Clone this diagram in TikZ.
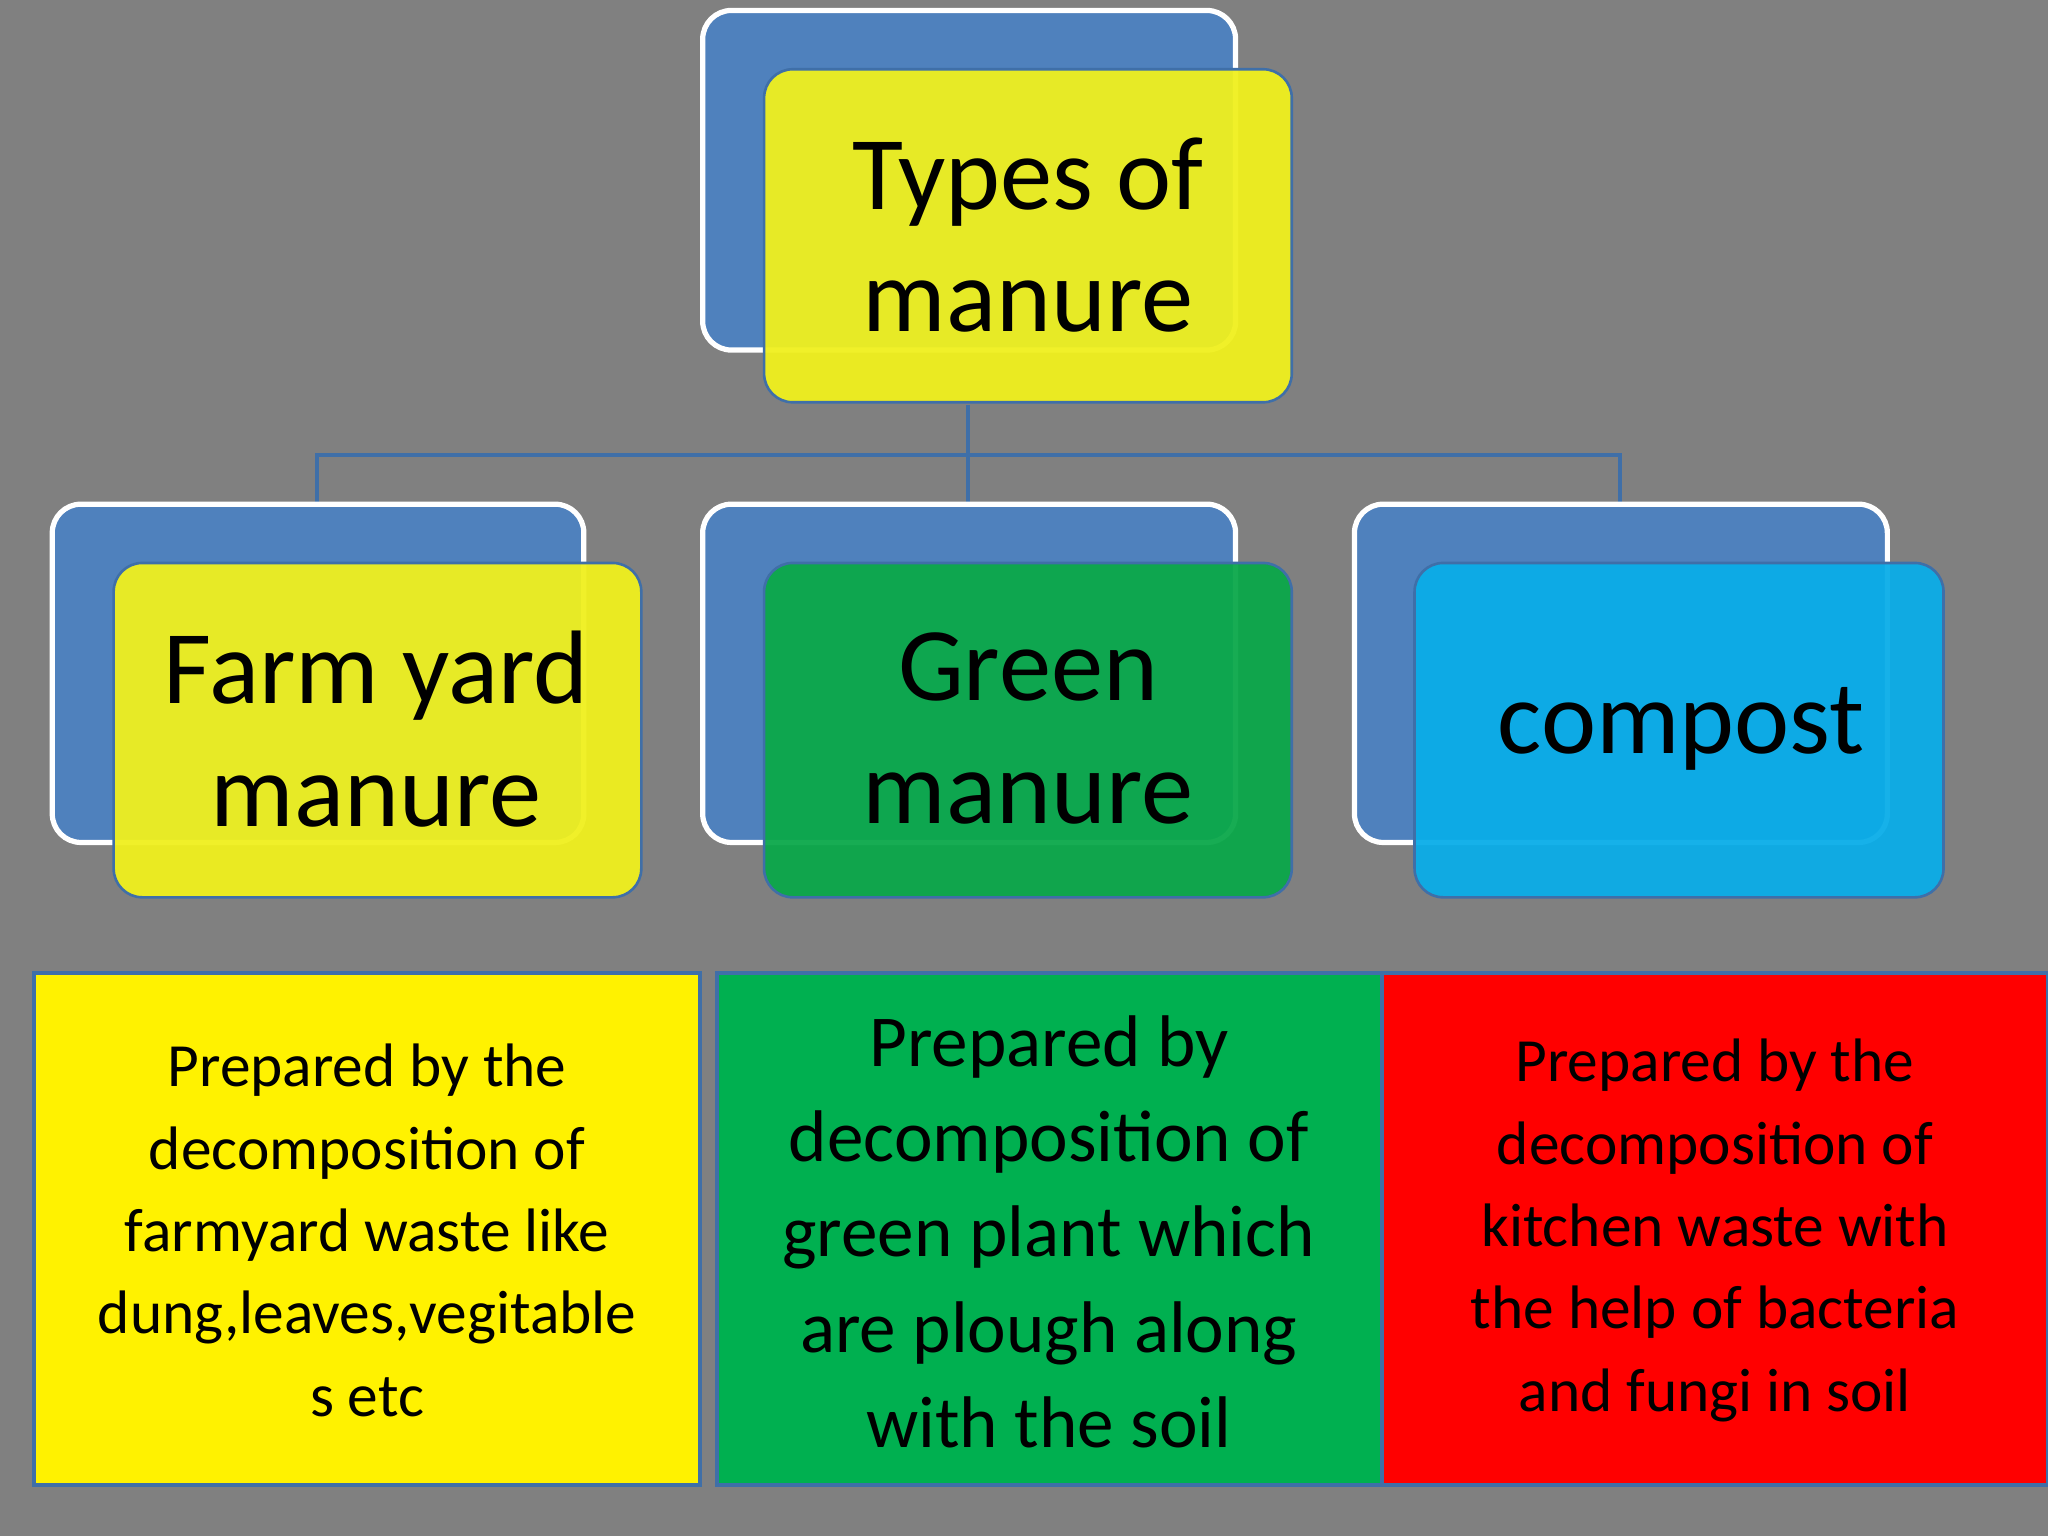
\documentclass[tikz,border=0pt]{standalone}
\usepackage{fontspec}
\setmainfont{Carlito}
\definecolor{bg}{HTML}{808080}
\definecolor{bk}{HTML}{4F81BD}
\definecolor{yl}{HTML}{F0F01E}
\definecolor{gn}{HTML}{0BA84A}
\definecolor{cy}{HTML}{0AADE8}
\definecolor{ln}{HTML}{3F6FA8}
\begin{document}
\begin{tikzpicture}[x=1pt,y=-1pt,
  back/.style={fill=bk,draw=white,line width=4pt,rounded corners=22pt},
  front/.style={draw=ln,line width=2pt,rounded corners=22pt,fill opacity=0.95},
  big/.style={align=center,font=\fontsize{80}{94}\selectfont},
  small/.style={align=center,font=\fontsize{47}{63}\selectfont},
  conn/.style={draw=ln,line width=3pt}]
\fill[bg] (0,0) rectangle (1568,1176);
\useasboundingbox (0,0) rectangle (1568,1176);
% top
\draw[back] (538,8) rectangle (946,268);
\draw[front,fill=yl] (585,53) rectangle (989,308);
\node[big] (top) at (787,180) {Types of\\manure};
% connectors
\coordinate (t) at (741,310);
\coordinate (h) at (741,348);
\coordinate (a) at (243,386);
\coordinate (b) at (741,386);
\coordinate (c) at (1240,386);
\draw[conn] (t) -- (h);
\draw[conn] (a) |- (h) -| (c);
\draw[conn] (h) -- (b);
% row
\draw[back] (40,386) rectangle (447,645);
\draw[back] (538,386) rectangle (946,645);
\draw[back] (1037,386) rectangle (1445,645);
\draw[front,fill=yl] (87,431) rectangle (491,687);
\draw[front,fill=gn] (585,431) rectangle (989,687);
\draw[front,fill=cy] (1083,431) rectangle (1488,687);
\node[big] (fym) at (288,558) {Farm yard\\manure};
\node[big] (gm) at (787,558) {Green\\manure};
\node[big] (cp) at (1287,558) {compost};
% bottom
\draw[fill=yellow,draw=ln,line width=3pt] (26,745) rectangle (536,1137);
\draw[fill={rgb,255:red,0;green,176;blue,80},draw=ln,line width=3pt] (549,745) rectangle (1058,1137);
\draw[fill=red,draw=ln,line width=3pt] (1058,745) rectangle (1568,1137);
\node[small] (d1) at (281,942) {Prepared by the\\decomposition of\\farmyard waste like\\dung,leaves,vegitable\\s etc};
\node[align=center,font=\fontsize{56}{73}\selectfont] (d2) at (803,943) {Prepared by\\decomposition of\\green plant which\\are plough along\\with the soil};
\node[small] (d3) at (1313,942) {Prepared by the\\decomposition of\\kitchen waste with\\the help of bacteria\\and fungi in soil};
\end{tikzpicture}
\end{document}
